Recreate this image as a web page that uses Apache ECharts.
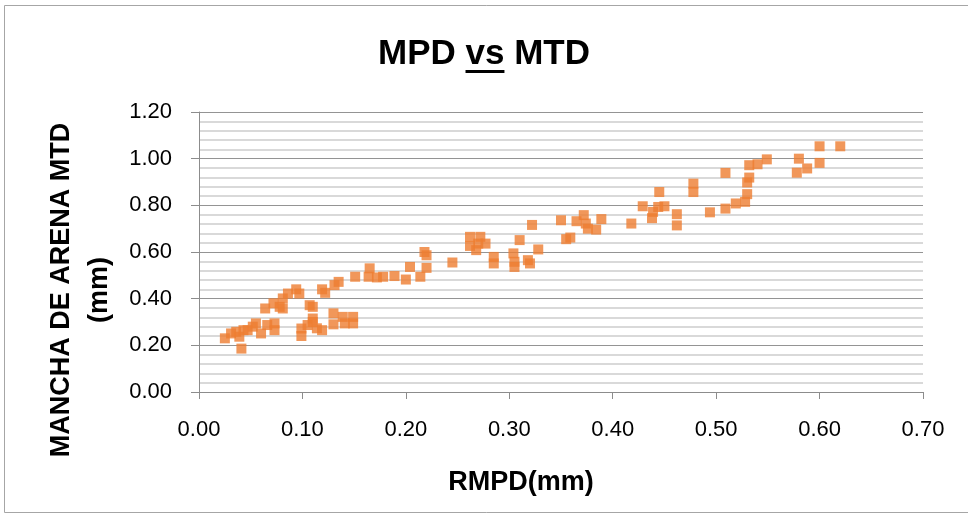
<!DOCTYPE html>
<html>
<head>
<meta charset="utf-8">
<script src="https://cdn.jsdelivr.net/npm/echarts@6/dist/echarts.min.js"></script>
<style>html,body{margin:0;padding:0;background:#fff}#c{width:968px;height:518px}</style>
</head>
<body>
<div id="c"></div>
<script>
// RMPD (mm) values
const rmpd = [0.025,0.031,0.036,0.039,0.041,0.043,0.047,0.052,0.055,0.060,0.064,0.066,0.072,0.073,0.073,0.078,0.081,0.081,0.086,0.094,0.097,0.099,0.099,0.105,0.107,0.110,0.110,0.110,0.114,0.119,0.119,0.122,0.130,0.130,0.131,0.135,0.139,0.141,0.149,0.149,0.151,0.165,0.164,0.172,0.178,0.189,0.200,0.204,0.214,0.218,0.220,0.220,0.245,0.262,0.272,0.270,0.277,0.262,0.268,0.285,0.285,0.304,0.305,0.305,0.310,0.318,0.320,0.322,0.328,0.350,0.355,0.359,0.365,0.372,0.374,0.376,0.384,0.389,0.418,0.429,0.439,0.438,0.445,0.444,0.450,0.462,0.462,0.478,0.478,0.494,0.509,0.509,0.519,0.528,0.530,0.530,0.532,0.532,0.540,0.549,0.578,0.580,0.588,0.600,0.600,0.620];
// Mancha de arena MTD (mm) values
const mtd = [0.230,0.251,0.258,0.237,0.186,0.265,0.265,0.280,0.294,0.251,0.358,0.287,0.380,0.294,0.265,0.365,0.401,0.358,0.422,0.440,0.422,0.272,0.240,0.287,0.372,0.365,0.315,0.300,0.273,0.265,0.440,0.425,0.337,0.290,0.458,0.472,0.322,0.294,0.322,0.294,0.494,0.530,0.494,0.491,0.494,0.497,0.482,0.536,0.494,0.600,0.586,0.532,0.555,0.665,0.665,0.636,0.636,0.626,0.608,0.579,0.551,0.594,0.558,0.536,0.651,0.565,0.551,0.716,0.611,0.736,0.655,0.662,0.732,0.758,0.722,0.700,0.696,0.741,0.722,0.796,0.772,0.745,0.857,0.793,0.796,0.762,0.714,0.893,0.857,0.770,0.939,0.786,0.808,0.815,0.848,0.898,0.919,0.972,0.976,0.997,0.940,1.000,0.958,0.982,1.053,1.053];
const xTicks = {min:0, max:0.7, interval:0.1};
const yTicks = {min:0, max:1.2, interval:0.2};
const titleText = 'MPD vs MTD';
const xName = 'RMPD(mm)';
const yName = 'MANCHA DE ARENA MTD\n(mm)';

const pts = rmpd.map((v,i)=>[v, mtd[i]]);
const FONT = '"Liberation Sans", Arial, sans-serif';
const chart = echarts.init(document.getElementById('c'), null, {renderer:'canvas'});
const m = document.createElement('canvas').getContext('2d');
m.font = 'bold 35px ' + FONT;
const wAll = m.measureText(titleText).width;
const wPre = m.measureText('MPD ').width;
const wVs = m.measureText('vs').width;
const x0 = 968/2 - wAll/2 + wPre;

chart.setOption({
  animation:false,
  backgroundColor:'#fff',
  grid:{left:199, right:45, top:112, bottom:126, containLabel:false},
  title:{
    text:titleText, left:'center', top:32,
    textStyle:{fontFamily:FONT, fontWeight:'bold', fontSize:35, color:'#000'}
  },
  xAxis:{
    type:'value', min:xTicks.min, max:xTicks.max, interval:xTicks.interval,
    axisLine:{show:true, onZero:false, lineStyle:{color:'#8c8c8c', width:1}},
    axisTick:{show:true, inside:false, length:7, lineStyle:{color:'#8c8c8c'}},
    axisLabel:{formatter:v=>v.toFixed(2), fontFamily:FONT, fontSize:22, color:'#000', margin:27},
    splitLine:{show:false}
  },
  yAxis:{
    type:'value', min:yTicks.min, max:yTicks.max, interval:yTicks.interval,
    axisLine:{show:true, onZero:false, lineStyle:{color:'#8c8c8c', width:1}},
    axisTick:{show:true, inside:false, length:8, lineStyle:{color:'#8c8c8c'}},
    axisLabel:{formatter:v=>v.toFixed(2), fontFamily:FONT, fontSize:22, color:'#000', margin:27},
    splitLine:{show:true, lineStyle:{color:'#949494', width:1}},
    minorTick:{show:false, splitNumber:5},
    minorSplitLine:{show:true, lineStyle:{color:'#cdcdcd', width:1.5}}
  },
  series:[{
    type:'scatter', data:pts, symbol:'rect', symbolSize:10,
    itemStyle:{color:'#ED7D31'}
  }],
  graphic:[
    {type:'rect', shape:{x:4.5, y:5.5, width:970, height:507}, style:{fill:null, stroke:'#a6a6a6', lineWidth:1}, silent:true},
    {type:'text', x:521, y:483, style:{text:xName, font:'bold 27px '+FONT, fill:'#000', textAlign:'center', textVerticalAlign:'middle'}},
    {type:'text', x:81, y:290, rotation:Math.PI/2, style:{text:yName, font:'bold 27px '+FONT, fill:'#000', textAlign:'center', textVerticalAlign:'middle', lineHeight:38}},
    {type:'rect', shape:{x:x0, y:70, width:wVs, height:3}, style:{fill:'#000'}}
  ]
});
</script>
</body>
</html>
